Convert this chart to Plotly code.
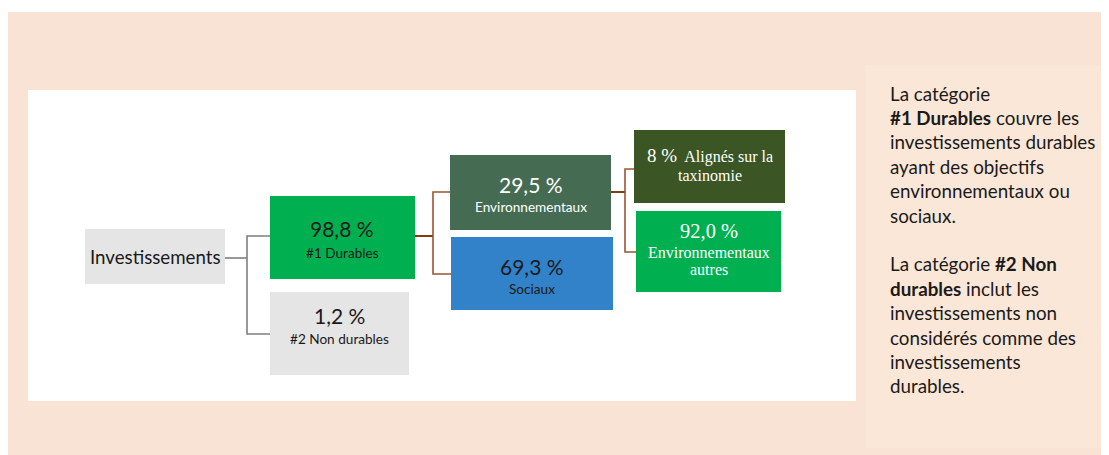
import plotly.graph_objects as go

# ---------------- data ----------------
root_label = "Investissements"
level1_labels = ["#1 Durables", "#2 Non durables"]
level1_values = [98.8, 1.2]
level2_labels = ["Environnementaux", "Sociaux"]
level2_values = [29.5, 69.3]
level3_labels = ["Alignés sur la", "Environnementaux<br>autres"]
level3_label2 = ["taxinomie", ""]
level3_values = [8, 92.0]
level3_decimals = [0, 1]
note_lines = [
    "La catégorie",
    "<b>#1 Durables</b> couvre les",
    "investissements durables",
    "ayant des objectifs",
    "environnementaux ou",
    "sociaux.",
    "",
    "La catégorie <b>#2 Non</b>",
    "<b>durables</b> inclut les",
    "investissements non",
    "considérés comme des",
    "investissements",
    "durables.",
]


def pct(v, d=1):
    s = f"{v:.{d}f}".replace(".", ",")
    return s + " %"


W, H = 1109, 455
OFF = 8  # page body margin
SANS = "Lato"
SERIF = "Liberation Serif"
PCT = 21
LBL = 13.6

shapes = []
ann = []


def rect(x0, y0, x1, y1, color):
    shapes.append(dict(type="rect", xref="x", yref="y", x0=x0, y0=y0, x1=x1, y1=y1,
                       fillcolor=color, line=dict(width=0), layer="below"))


def line(pts, color, width=1.6):
    path = "M " + " L ".join(f"{x},{y}" for x, y in pts)
    shapes.append(dict(type="path", xref="x", yref="y", path=path,
                       line=dict(color=color, width=width)))


def text(x, y, t, size, color="#1a1a1a", family=SANS, xanchor="center"):
    ann.append(dict(x=x, y=y, xref="x", yref="y", text=t, showarrow=False,
                    xanchor=xanchor, yanchor="middle",
                    font=dict(family=family, size=size, color=color)))


# backgrounds
rect(6, 12, W, H, "#F8E3D5")
rect(866, 65, 1108, 448, "#FAE7D8")
rect(28, 90, 856, 401, "#FFFFFF")

# connectors
GRAY = "#7F7F7F"
BROWN = "#9A5530"
line([(225, 258), (247, 258)], GRAY)
line([(270, 236), (247, 236), (247, 334), (270, 334)], GRAY)
line([(415, 236), (433, 236)], "#843C0C", 2)
line([(450, 192), (433, 192), (433, 274), (451, 274)], BROWN)
line([(611, 192), (625, 192)], "#843C0C", 2)
line([(634, 169), (625, 169), (625, 252), (636, 252)], BROWN)

# root
rect(85, 229, 225, 284, "#E5E5E5")
text(155, 257, root_label, 18.7)

# level 1
rect(270, 196, 415, 279, "#00B050")
text(342, 228, pct(level1_values[0]), PCT)
text(342, 253, level1_labels[0], LBL)
rect(270, 292, 409, 375, "#E5E5E5")
text(339, 315, pct(level1_values[1]), PCT)
text(339, 339, level1_labels[1], LBL)

# level 2
rect(450, 155, 611, 230, "#456C53")
text(531, 184, pct(level2_values[0]), PCT, "#FFFFFF")
text(531, 207, level2_labels[0], LBL, "#FFFFFF")
rect(451, 237, 613, 310, "#3282C9")
text(532, 266, pct(level2_values[1]), PCT)
text(532, 289, level2_labels[1], LBL)

# level 3
rect(634, 130, 785, 203, "#3B5624")
text(710, 155, f"<span style='font-size:19px'>{pct(level3_values[0], level3_decimals[0])}</span>  {level3_labels[0]}",
     16, "#FFFFFF", SERIF)
text(710, 175, level3_label2[0], 16, "#FFFFFF", SERIF)
rect(636, 211, 781, 292, "#00B050")
text(709, 231, pct(level3_values[1], level3_decimals[1]), 20.5, "#FFFFFF", SERIF)
l3 = level3_labels[1].split("<br>")
text(709, 252, l3[0], 16, "#FFFFFF", SERIF)
text(709, 269, l3[1], 16, "#FFFFFF", SERIF)

# note
y = 93
for ln in note_lines:
    if ln:
        text(888, y, ln, 18.8, "#1a1a1a", SANS, xanchor="left")
    y += 24.4

fig = go.Figure()
fig.update_layout(
    width=W - OFF, height=H - OFF, margin=dict(l=0, r=0, t=0, b=0),
    paper_bgcolor="#FFFFFF", plot_bgcolor="#FFFFFF",
    xaxis=dict(range=[OFF, W], visible=False, fixedrange=True),
    yaxis=dict(range=[H, OFF], visible=False, fixedrange=True),
    shapes=shapes, annotations=ann, showlegend=False,
)
fig.write_html("out.html", config={"displayModeBar": False})
